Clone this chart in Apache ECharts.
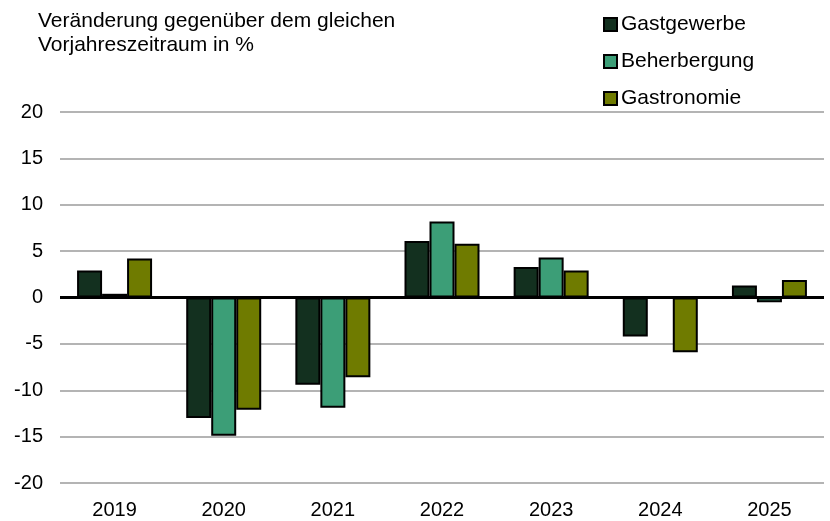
<!DOCTYPE html>
<html>
<head>
<meta charset="utf-8">
<script src="https://cdn.jsdelivr.net/npm/echarts@6/dist/echarts.min.js"></script>
<style>
  html, body { margin: 0; padding: 0; background: #fff; }
  #chart { width: 830px; height: 521px; }
</style>
</head>
<body>
<div id="chart"></div>
<script>
var years = ['2019', '2020', '2021', '2022', '2023', '2024', '2025'];
var gastgewerbe = [2.9, -13.0, -9.4, 6.1, 3.3, -4.2, 1.3];
var beherbergung = [0.4, -14.9, -11.9, 8.2, 4.3, 0.0, -0.5];
var gastronomie = [4.2, -12.1, -8.6, 5.8, 2.9, -5.9, 1.9];
var yTicks = [-20, -15, -10, -5, 0, 5, 10, 15, 20];

var font = 'Arial, "Liberation Sans", sans-serif';

function bar(name, data, color) {
    return {
        name: name,
        type: 'bar',
        data: data,
        barWidth: 25,
        barGap: '0%',
        itemStyle: { color: color, borderColor: '#000', borderWidth: 2 }
    };
}

var series = [
    bar('Gastgewerbe', gastgewerbe, '#13301f'),
    bar('Beherbergung', beherbergung, '#3c9e77'),
    bar('Gastronomie', gastronomie, '#6f7b00')
];
// thick zero line
series[0].markLine = {
    silent: true,
    symbol: 'none',
    label: { show: false },
    lineStyle: { color: '#000', width: 3, type: 'solid' },
    data: [{ yAxis: 0 }]
};

var chart = echarts.init(document.getElementById('chart'));
chart.setOption({
    animation: false,
    textStyle: { fontFamily: font },
    graphic: [{
        type: 'text',
        left: 38, top: 9,
        style: {
            text: 'Veränderung gegenüber dem gleichen\nVorjahreszeitraum in %',
            font: '21px ' + font,
            fill: '#000',
            lineHeight: 24
        }
    }],
    legend: {
        orient: 'vertical',
        left: 603, top: 14,
        padding: 0,
        icon: 'rect',
        itemWidth: 13, itemHeight: 13,
        itemGap: 16,
        textStyle: { fontSize: 21, color: '#000', fontFamily: font, padding: [0, 0, 0, -1] },
        itemStyle: { borderColor: '#000', borderWidth: 2 },
        data: ['Gastgewerbe', 'Beherbergung', 'Gastronomie']
    },
    grid: { left: 60, right: 6, top: 112, bottom: 38 },
    xAxis: {
        type: 'category',
        data: years,
        axisLine: { show: false, onZero: false },
        axisTick: { show: false },
        axisLabel: { fontSize: 20, color: '#000', margin: 17, fontFamily: font }
    },
    yAxis: {
        type: 'value',
        min: yTicks[0], max: yTicks[yTicks.length - 1], interval: 5,
        axisLine: { show: false },
        axisTick: { show: false },
        axisLabel: { fontSize: 20, color: '#000', margin: 17, fontFamily: font },
        splitLine: { lineStyle: { color: '#b4b4b4', width: 2 } }
    },
    series: series
});
</script>
</body>
</html>
